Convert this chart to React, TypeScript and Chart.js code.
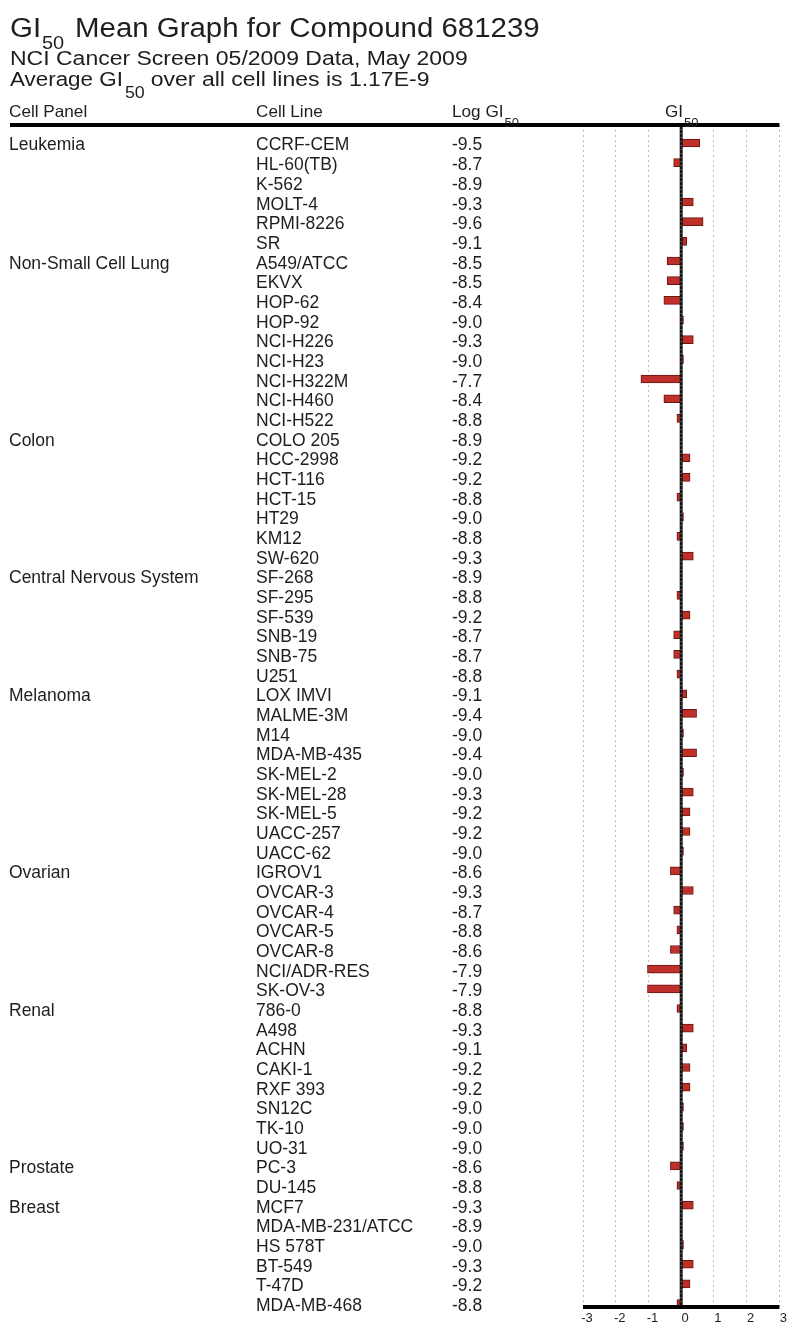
import React, { useEffect, useRef } from "react";
import { Chart, registerables } from "chart.js";

Chart.register(...registerables);

// ---------- data ----------
const panelNames = [
  "Leukemia",
  "Non-Small Cell Lung",
  "Colon",
  "Central Nervous System",
  "Melanoma",
  "Ovarian",
  "Renal",
  "Prostate",
  "Breast",
];
const panelSizes = [6, 9, 7, 6, 9, 7, 8, 2, 6];

const cellLines = [
  "CCRF-CEM", "HL-60(TB)", "K-562", "MOLT-4", "RPMI-8226", "SR",
  "A549/ATCC", "EKVX", "HOP-62", "HOP-92", "NCI-H226", "NCI-H23", "NCI-H322M", "NCI-H460", "NCI-H522",
  "COLO 205", "HCC-2998", "HCT-116", "HCT-15", "HT29", "KM12", "SW-620",
  "SF-268", "SF-295", "SF-539", "SNB-19", "SNB-75", "U251",
  "LOX IMVI", "MALME-3M", "M14", "MDA-MB-435", "SK-MEL-2", "SK-MEL-28", "SK-MEL-5", "UACC-257", "UACC-62",
  "IGROV1", "OVCAR-3", "OVCAR-4", "OVCAR-5", "OVCAR-8", "NCI/ADR-RES", "SK-OV-3",
  "786-0", "A498", "ACHN", "CAKI-1", "RXF 393", "SN12C", "TK-10", "UO-31",
  "PC-3", "DU-145",
  "MCF7", "MDA-MB-231/ATCC", "HS 578T", "BT-549", "T-47D", "MDA-MB-468",
];

const logGI50 = [
  -9.5, -8.7, -8.9, -9.3, -9.6, -9.1,
  -8.5, -8.5, -8.4, -9.0, -9.3, -9.0, -7.7, -8.4, -8.8,
  -8.9, -9.2, -9.2, -8.8, -9.0, -8.8, -9.3,
  -8.9, -8.8, -9.2, -8.7, -8.7, -8.8,
  -9.1, -9.4, -9.0, -9.4, -9.0, -9.3, -9.2, -9.2, -9.0,
  -8.6, -9.3, -8.7, -8.8, -8.6, -7.9, -7.9,
  -8.8, -9.3, -9.1, -9.2, -9.2, -9.0, -9.0, -9.0,
  -8.6, -8.8,
  -9.3, -8.9, -9.0, -9.3, -9.2, -8.8,
];

// log10(1.17E-9)
const meanLogGI50 = -8.93;
const xTicks = [-3, -2, -1, 0, 1, 2, 3];

// ---------- helpers ----------
const FONT = '"Liberation Sans", Arial, Helvetica, sans-serif';
const TEXT = "#1e1e1e";

function drawText(ctx: CanvasRenderingContext2D, s: string, x: number, y: number, size: number, sx = 1) {
  ctx.save();
  ctx.font = `${size}px ${FONT}`;
  ctx.fillStyle = TEXT;
  ctx.textBaseline = "alphabetic";
  ctx.textAlign = "left";
  ctx.translate(x, y);
  ctx.scale(sx, 1);
  ctx.fillText(s, 0, 0);
  const w = ctx.measureText(s).width * sx;
  ctx.restore();
  return w;
}

const meanLinePlugin = {
  id: "meanLine",
  afterDatasetsDraw(chart: any) {
    const { ctx, chartArea, scales } = chart;
    const x0 = scales.x.getPixelForValue(0);
    ctx.save();
    ctx.strokeStyle = "#151515";
    ctx.lineWidth = 3;
    ctx.beginPath();
    ctx.moveTo(x0, chartArea.top);
    ctx.lineTo(x0, chartArea.bottom);
    ctx.stroke();
    ctx.strokeStyle = "#8a8a8a";
    ctx.lineWidth = 1;
    ctx.setLineDash([1, 3]);
    ctx.beginPath();
    ctx.moveTo(x0, chartArea.top);
    ctx.lineTo(x0, chartArea.bottom);
    ctx.stroke();
    ctx.restore();
  },
};

const tablePlugin = {
  id: "tableText",
  afterDraw(chart: any) {
    const { ctx, chartArea, scales } = chart;
    const ys = scales.y;

    // frame lines
    ctx.save();
    ctx.strokeStyle = "#000";
    ctx.lineWidth = 4;
    ctx.beginPath();
    ctx.moveTo(10, chartArea.top);
    ctx.lineTo(chartArea.right, chartArea.top);
    ctx.stroke();
    ctx.beginPath();
    ctx.moveTo(chartArea.left, chartArea.bottom);
    ctx.lineTo(chartArea.right, chartArea.bottom);
    ctx.stroke();
    ctx.restore();

    // titles
    drawText(ctx, "GI", 10, 37, 27, 1.09);
    drawText(ctx, "50", 42, 49, 19, 1.05);
    drawText(ctx, "Mean Graph for Compound 681239", 75, 37, 27, 1.09);
    drawText(ctx, "NCI Cancer Screen 05/2009 Data, May 2009", 10, 65, 20, 1.15);
    const w3 = drawText(ctx, "Average GI", 10, 86, 20, 1.12);
    const ws = drawText(ctx, "50", 10 + w3 + 2, 98, 17, 1.05);
    drawText(ctx, "over all cell lines is 1.17E-9", 10 + w3 + ws + 8, 86, 20, 1.15);

    // header row
    drawText(ctx, "Cell Panel", 9, 117, 16.5, 1.04);
    drawText(ctx, "Cell Line", 256, 117, 16.5, 1.04);
    const wl = drawText(ctx, "Log GI", 452, 117, 16.5, 1.04);
    drawText(ctx, "50", 452 + wl + 1, 127, 13, 1.0);
    const wg = drawText(ctx, "GI", 665, 117, 16.5, 1.04);
    drawText(ctx, "50", 665 + wg + 1, 127, 13, 1.0);

    // rows
    let start = 0;
    panelNames.forEach((name, p) => {
      const yp = ys.getPixelForValue(start);
      drawText(ctx, name, 9, yp + 7.5, 17.5, 1.0);
      start += panelSizes[p];
    });
    cellLines.forEach((cl, i) => {
      const yp = ys.getPixelForValue(i);
      drawText(ctx, cl, 256, yp + 7.5, 17.5, 1.0);
      drawText(ctx, logGI50[i].toFixed(1), 452, yp + 7.5, 17.5, 1.0);
    });
  },
};

export default function App() {
  const ref = useRef<HTMLCanvasElement | null>(null);

  useEffect(() => {
    if (!ref.current) return;
    const deviations = logGI50.map((v) => Math.round((meanLogGI50 - v) * 100) / 100);
    const chart = new Chart(ref.current, {
      type: "bar",
      data: {
        datasets: [
          {
            data: deviations.map((d, i) => ({ x: d, y: i })),
            backgroundColor: "#c0302a",
            borderColor: "#6a1510",
            borderWidth: 1,
            borderSkipped: false,
            barThickness: 8,
          },
        ],
      },
      plugins: [meanLinePlugin, tablePlugin],
      options: {
        indexAxis: "y",
        responsive: false,
        animation: false,
        devicePixelRatio: 1,
        layout: { padding: { left: 583, right: 6, top: 125, bottom: 0 } },
        plugins: { legend: { display: false }, tooltip: { enabled: false }, title: { display: false } },
        scales: {
          y: {
            type: "linear",
            display: false,
            reverse: true,
            offset: false,
            grace: 0,
            min: -0.915,
            max: 59.175,
            grid: { offset: false },
          },
          x: {
            type: "linear",
            min: -3,
            max: 3,
            afterBuildTicks: (s: any) => {
              s.ticks = xTicks.map((v) => ({ value: v }));
            },
            afterFit: (s: any) => {
              s.height = 17;
            },
            grid: {
              drawTicks: false,
              color: (c: any) => (c.tick && c.tick.value === 0 ? "rgba(0,0,0,0)" : "#bdbdbd"),
              lineWidth: 1,
            },
            border: { display: false, dash: [2, 3] },
            ticks: {
              padding: 4,
              labelOffset: 4,
              color: TEXT,
              font: { family: FONT, size: 13 },
              callback: (v: any) => String(v),
            },
          },
        },
      },
    } as any);
    return () => chart.destroy();
  }, []);

  return (
    <div style={{ position: "absolute", left: 0, top: 0, width: 787, height: 1324, background: "#fff" }}>
      <canvas ref={ref} width={787} height={1324} style={{ display: "block", width: 787, height: 1324 }} />
    </div>
  );
}
